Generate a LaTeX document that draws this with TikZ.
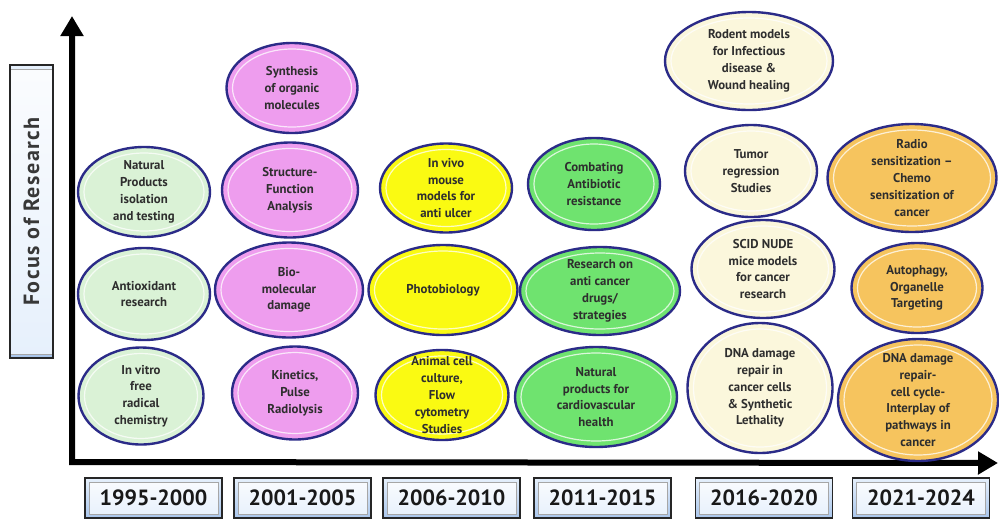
\documentclass[tikz,border=0pt]{standalone}
\usepackage{fontspec}
\setmainfont{PT Sans}
\usetikzlibrary{arrows.meta,shapes.geometric,calc}
\definecolor{encre}{HTML}{2B2B88}
\definecolor{menthe}{HTML}{DAF2D6}
\definecolor{orchidee}{HTML}{EE9DEE}
\definecolor{citron}{HTML}{FAFA12}
\definecolor{pomme}{HTML}{6FE36F}
\definecolor{creme}{HTML}{FBF7DC}
\definecolor{ambre}{HTML}{F6C45E}
\definecolor{ciel}{HTML}{A9C6EC}
\definecolor{cielclair}{HTML}{E6F0FC}

\begin{document}
\begin{tikzpicture}[x=1pt,y=-1pt,
        bulle/.style={ellipse,draw=encre,line width=2.4pt,inner sep=0pt,
            path picture={\draw[white,opacity=.75,line width=1.2pt]let\p1=(path picture bounding box.north east),\p2=(path picture bounding box.center)in(\p2)ellipse[x radius=\x1-\x2-6pt,y radius=\y1-\y2-6pt];}},
        texte/.style={align=center,font=\bfseries\fontsize{12.8}{16.8}\selectfont,text=black!82},
        panneau/.style={draw=black!85,line width=1.2pt,top color=cielclair,bottom color=ciel,
            path picture={\draw[gray!70,line width=.6pt,top color=white!95!ciel,bottom color=cielclair]([shift={(4pt,4pt)}]path picture bounding box.south west)rectangle([shift={(-4pt,-4pt)}]path picture bounding box.north east);}},
        annee/.style={panneau,minimum width=137pt,minimum height=40pt,inner sep=0pt,font=\bfseries\fontsize{22}{22}\selectfont,text=black!90}]
    \useasboundingbox(0,0)rectangle(999,520);
    \def\bulle#1#2#3#4#5#6{\node[bulle,fill=#5,minimum width=#3pt,minimum height=#4pt](#1)at(#2){};
        \node[texte](#1-t)at(#1){#6};}
    \def\periode#1#2#3{\node[annee](#1)at(#2,498){#3};}
    \coordinate(origine)at(72,462);
    \coordinate(haut)at(72,16);
    \coordinate(droite)at(998,463);
    \draw[line width=6pt,{Triangle[length=20pt,width=22pt]}-{Triangle[length=20pt,width=22pt]}](haut)--(origine)--(droite);
    \node[panneau,rotate=90,minimum width=293pt,minimum height=43pt,inner sep=0pt,font=\bfseries\fontsize{22}{22}\selectfont\addfontfeatures{LetterSpace=7},text=black!78](focus)at(31.5,211.5){Focus of Research};
    \bulle{nat}{144,192}{132}{90}{menthe}{Natural\\Products\\isolation\\and testing}
    \bulle{antiox}{144,294}{132}{92}{menthe}{Antioxidant\\research}
    \bulle{vitro}{141,396}{125}{97}{menthe}{In vitro\\free\\radical\\chemistry}
    \bulle{synth}{292,88}{131}{90}{orchidee}{Synthesis\\of organic\\molecules}
    \bulle{struct}{290,190}{136}{95}{orchidee}{Structure-\\Function\\Analysis}
    \bulle{biomol}{289,290}{148}{95}{orchidee}{Bio-\\molecular\\damage}
    \bulle{kinet}{295,393}{126}{93}{orchidee}{Kinetics,\\Pulse\\Radiolysis}
    \bulle{vivo}{446,188}{132}{89}{citron}{In vivo\\mouse\\models for\\anti ulcer}
    \bulle{photo}{443,290}{149}{90}{citron}{Photobiology}
    \bulle{culture}{442,395}{133}{90}{citron}{Animal cell\\culture,\\Flow\\cytometry\\Studies}
    \bulle{antibio}{594,184}{132}{92}{pomme}{Combating\\Antibiotic\\resistance}
    \bulle{cancer}{600,291}{160}{88}{pomme}{Research on\\anti cancer\\drugs/\\strategies}
    \bulle{cardio}{596,397}{162}{100}{pomme}{Natural\\products for\\cardiovascular\\health}
    \bulle{rodent}{749,61}{168}{98}{creme}{Rodent models\\for Infectious\\disease \&\\Wound healing}
    \bulle{tumor}{751,171}{132}{92}{creme}{Tumor\\regression\\Studies}
    \bulle{scid}{763,269}{143}{98}{creme}{SCID NUDE\\mice models\\for cancer\\research}
    \bulle{dna}{760,388}{145}{130}{creme}{DNA damage\\repair in\\cancer cells\\\& Synthetic\\Lethality}
    \bulle{radio}{912,178}{169}{108}{ambre}{Radio\\sensitization --\\Chemo\\sensitization of\\cancer}
    \bulle{autoph}{917,288}{131}{90}{ambre}{Autophagy,\\Organelle\\Targeting}
    \bulle{cycle}{918,400}{160}{122}{ambre}{DNA damage\\repair-\\cell cycle-\\Interplay of\\pathways in\\cancer}
    \periode{p1}{153.5}{1995-2000}
    \periode{p2}{302.5}{2001-2005}
    \periode{p3}{451.5}{2006-2010}
    \periode{p4}{602.5}{2011-2015}
    \periode{p5}{764}{2016-2020}
    \periode{p6}{921}{2021-2024}
\end{tikzpicture}
\end{document}
